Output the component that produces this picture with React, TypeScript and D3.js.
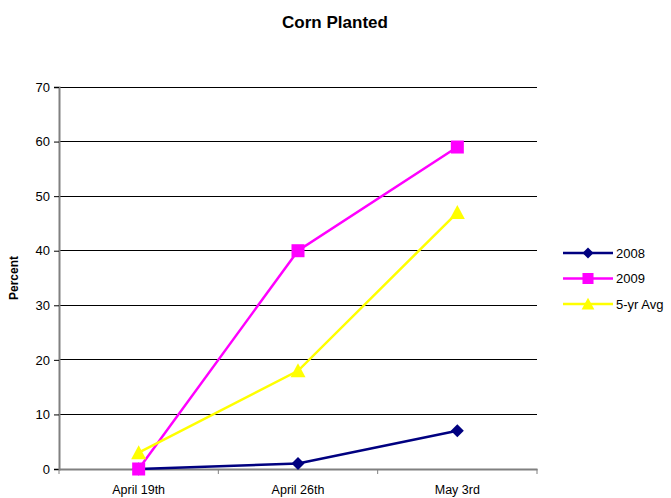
import { useEffect, useRef } from "react";
import * as d3 from "d3";

const categories = ["April 19th", "April 26th", "May 3rd"];
const series2008 = [0, 1, 7];
const series2009 = [0, 40, 59];
const seriesAvg = [3, 18, 47];
const yTicks = [0, 10, 20, 30, 40, 50, 60, 70];

// marker outlines, centred on 0,0
const diamond = (r: number) => `M0,${-r}L${r},0L0,${r}L${-r},0Z`;
const square = (r: number) => `M${-r},${-r}H${r}V${r}H${-r}Z`;
const triangle = (r: number) => `M0,${-r - 1}L${r + 1},${r}L${-r - 1},${r}Z`;

const seriesList = [
  { name: "2008", values: series2008, color: "#000080", marker: diamond(6.5) },
  { name: "2009", values: series2009, color: "#FF00FF", marker: square(6.5) },
  { name: "5-yr Avg", values: seriesAvg, color: "#FFFF00", marker: triangle(6.5) },
];

const App = () => {
  const svgRef = useRef<SVGSVGElement>(null);

  useEffect(() => {
    const svg = d3.select(svgRef.current);
    svg.selectAll("*").remove();
    const font = "Liberation Sans, Arial, sans-serif";

    const left = 59, right = 537, top = 87, bottom = 469;

    const x = d3.scaleBand<string>().domain(categories).range([left, right]);
    const y = d3.scaleLinear().domain([0, 70]).range([bottom, top]);

    svg.append("text")
      .attr("x", 335).attr("y", 28)
      .attr("text-anchor", "middle")
      .attr("font-family", font).attr("font-size", 17).attr("font-weight", "bold")
      .text("Corn Planted");

    // gridlines
    svg.append("g").selectAll("line").data(yTicks.filter(d => d > 0)).join("line")
      .attr("x1", left).attr("x2", right)
      .attr("y1", d => y(d)).attr("y2", d => y(d))
      .attr("stroke", "#000").attr("stroke-width", 1).attr("shape-rendering", "crispEdges");

    const yAxis = svg.append("g").attr("transform", `translate(${left},0)`)
      .call(d3.axisLeft(y).tickValues(yTicks).tickSize(5).tickPadding(4));
    yAxis.select(".domain").attr("stroke", "#808080").attr("stroke-width", 2);
    yAxis.selectAll(".tick line").attr("stroke", "#000");
    yAxis.selectAll("text").attr("font-family", font).attr("font-size", 13).attr("fill", "#000");

    const xAxis = svg.append("g").attr("transform", `translate(0,${bottom})`)
      .call(d3.axisBottom(x).tickSize(0).tickPadding(16));
    xAxis.select(".domain").attr("stroke", "#808080").attr("stroke-width", 2);
    xAxis.selectAll("text").attr("font-family", font).attr("font-size", 12.5).attr("fill", "#000");
    xAxis.selectAll("line.edge").data([left, ...categories.map(c => (x(c) as number) + x.bandwidth())]).join("line")
      .attr("class", "edge")
      .attr("x1", d => d).attr("x2", d => d).attr("y1", 0).attr("y2", 5)
      .attr("stroke", "#808080").attr("stroke-width", 1);

    svg.append("text")
      .attr("transform", `translate(18,${(top + bottom) / 2}) rotate(-90)`)
      .attr("text-anchor", "middle")
      .attr("font-family", font).attr("font-size", 12).attr("font-weight", "bold")
      .text("Percent");

    const cx = (i: number) => (x(categories[i]) as number) + x.bandwidth() / 2;
    const line = d3.line<number>().x((_, i) => cx(i)).y(d => y(d));

    seriesList.forEach(s => {
      svg.append("path").datum(s.values).attr("d", line)
        .attr("fill", "none").attr("stroke", s.color).attr("stroke-width", 2.5);
      svg.append("g").selectAll("path").data(s.values).join("path")
        .attr("transform", (d, i) => `translate(${cx(i)},${y(d)})`)
        .attr("d", s.marker)
        .attr("fill", s.color);
    });

    const legend = svg.append("g");
    seriesList.forEach((s, i) => {
      const ly = 253 + i * 25.5;
      legend.append("line").attr("x1", 563).attr("x2", 613).attr("y1", ly).attr("y2", ly)
        .attr("stroke", s.color).attr("stroke-width", 2.5);
      legend.append("path").attr("transform", `translate(588,${ly}) scale(0.85)`)
        .attr("d", s.marker).attr("fill", s.color);
      legend.append("text").attr("x", 616).attr("y", ly + 4.5)
        .attr("font-family", font).attr("font-size", 13).text(s.name);
    });
  }, []);

  return (
    <svg ref={svgRef} width={671} height={498} style={{ position: "absolute", left: 0, top: 0 }}></svg>
  );
};

export default App;
